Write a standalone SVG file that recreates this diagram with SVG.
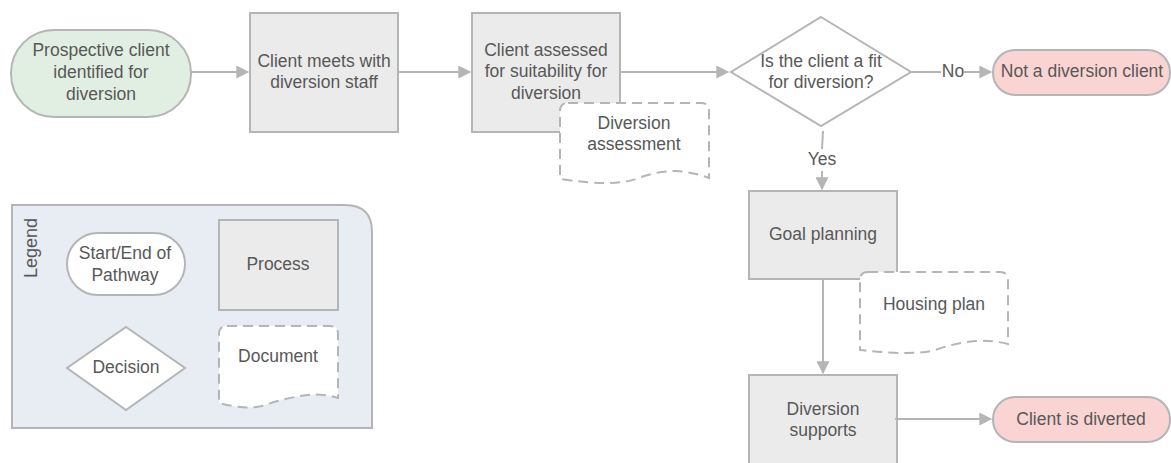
<svg xmlns="http://www.w3.org/2000/svg" width="1171" height="463" viewBox="0 0 1171 463">
<style>
text{font-family:"Liberation Sans",Arial,sans-serif;font-size:17.5px;fill:#585858;text-anchor:middle;dominant-baseline:middle}
.sh{stroke:#b5b5b5;stroke-width:2}
.proc{fill:#ebebeb}
.doc{fill:#fff;stroke-dasharray:10 6}
.edge{fill:none;stroke:#b5b5b5;stroke-width:2}
</style>
<defs>
<marker id="ah" viewBox="0 0 10 10" refX="9" refY="5" markerWidth="14" markerHeight="13" markerUnits="userSpaceOnUse" orient="auto"><path d="M0,0 L10,5 L0,10 z" fill="#b5b5b5"/></marker>
</defs>
<g id="legend">
<path class="sh" d="M12,205 H345 Q372,205 372,232 V428 H12 Z" fill="#e8ecf3"/>
<text x="32" y="248" transform="rotate(-90 32 248)" style="font-size:18px">Legend</text>
<rect class="sh" x="67" y="233" width="118" height="62" rx="31" fill="#fff"/>
<text x="125" y="254">Start/End of</text><text x="125" y="276">Pathway</text>
<rect class="sh proc" x="219" y="220" width="119" height="90"/>
<text x="278" y="265">Process</text>
<path class="sh" d="M126,327 L185,368 L126,410 L67,368 Z" fill="#fff"/>
<text x="126" y="368">Decision</text>
<path class="sh doc" d="M227,326 H330 Q338,326 338,334 V398 Q322,393 307,395 Q285,398 262,406 Q245,410 219,403 V334 Q219,326 227,326 Z"/>
<text x="278" y="357">Document</text>
</g>
<g id="start">
<rect class="sh" x="11" y="30" width="180" height="87" rx="43" fill="#e1efe2"/>
<text x="101" y="51">Prospective client</text><text x="101" y="73">identified for</text><text x="101" y="95">diversion</text>
</g>
<g id="meet">
<rect class="sh proc" x="250" y="13" width="148" height="119"/>
<text x="324" y="62">Client meets with</text><text x="324" y="83">diversion staff</text>
</g>
<g id="assess">
<rect class="sh proc" x="472" y="13" width="148" height="119"/>
<text x="546" y="51">Client assessed</text><text x="546" y="72">for suitability for</text><text x="546" y="94">diversion</text>
</g>
<g id="assessdoc">
<path class="sh doc" d="M568,103 H701 Q709,103 709,111 V178 Q693,172 676,171 Q656,171 636,179 Q614,187 560,179 V111 Q560,103 568,103 Z"/>
<text x="634" y="124">Diversion</text><text x="634" y="145">assessment</text>
</g>
<g id="decision">
<path class="sh" d="M821,17 L911,72 L821,126 L731,72 Z" fill="#fff"/>
<text x="821" y="62">Is the client a fit</text><text x="821" y="83">for diversion?</text>
</g>
<g id="notclient">
<rect class="sh" x="993" y="50" width="177" height="45" rx="22" fill="#fad3d3"/>
<text x="1082" y="72">Not a diversion client</text>
</g>
<g id="goal">
<rect class="sh proc" x="749" y="191" width="148" height="88"/>
<text x="823" y="235">Goal planning</text>
</g>
<g id="housing">
<path class="sh doc" d="M868,272 H1000 Q1008,272 1008,280 V344 Q992,340 975,341 Q955,343 935,350 Q915,356 860,350 V280 Q860,272 868,272 Z"/>
<text x="934" y="305">Housing plan</text>
</g>
<g id="supports">
<rect class="sh proc" x="749" y="375" width="148" height="100"/>
<text x="823" y="410">Diversion</text><text x="823" y="431">supports</text>
</g>
<g id="diverted">
<rect class="sh" x="993" y="397" width="177" height="45" rx="22" fill="#fad3d3"/>
<text x="1081" y="420">Client is diverted</text>
</g>
<g id="connectors">
<path class="edge" d="M191,72 H248" marker-end="url(#ah)"/>
<path class="edge" d="M398,72 H470" marker-end="url(#ah)"/>
<path class="edge" d="M620,72 H728" marker-end="url(#ah)"/>
<path class="edge" d="M911,72 H941"/>
<path class="edge" d="M964,72 H991" marker-end="url(#ah)"/>
<text x="953" y="72">No</text>
<path class="edge" d="M823,131 L822,149"/>
<path class="edge" d="M822,171 V189" marker-end="url(#ah)"/>
<text x="822" y="160">Yes</text>
<path class="edge" d="M823,279 V373" marker-end="url(#ah)"/>
<path class="edge" d="M895,419 H991" marker-end="url(#ah)"/>
</g>
</svg>
